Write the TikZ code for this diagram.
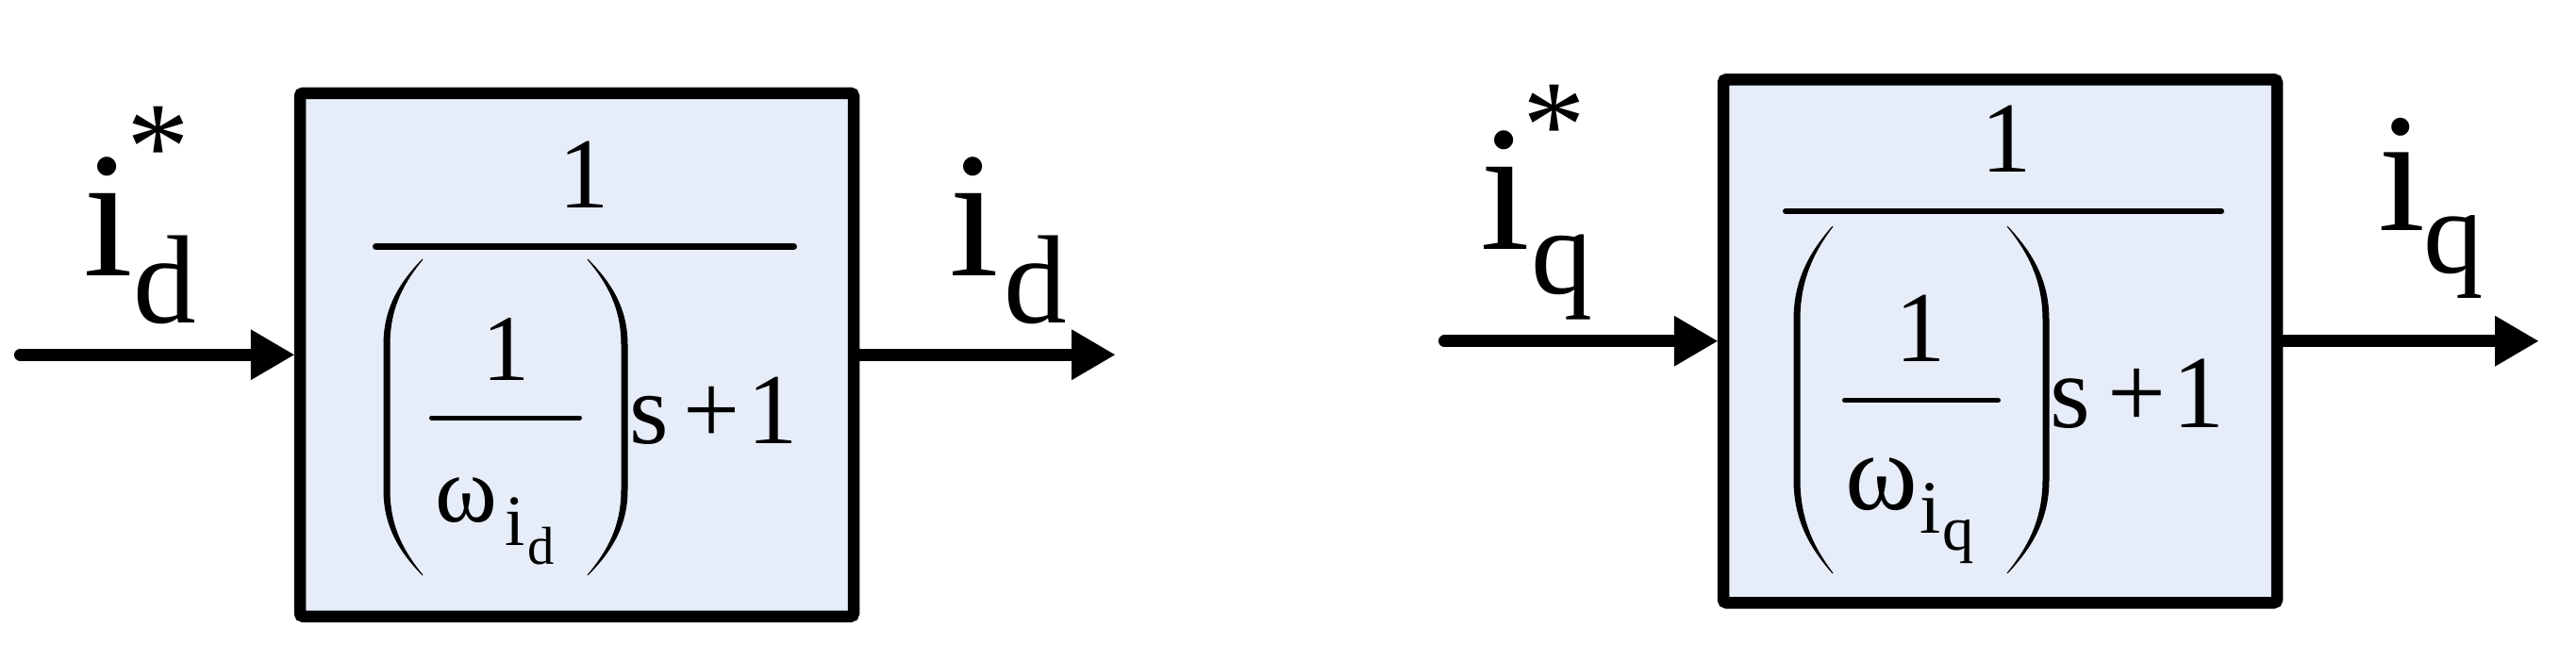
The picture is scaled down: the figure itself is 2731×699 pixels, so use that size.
\documentclass[tikz,border=0pt]{standalone}
\usepackage{fontspec}
\setmainfont{Liberation Serif}
\usetikzlibrary{arrows.meta}
\definecolor{boxfill}{RGB}{230,237,248}
\newcommand{\fs}[1]{\fontsize{#1pt}{#1pt}\selectfont}
% tall thin parenthesis: #1 tip x, #2 outer x, #3 top y, #4 bottom y, #5 signed thickness
\newcommand{\Parn}[5]{%
 \filldraw[line width=0.3pt]
 (#1,#3) .. controls ({(#2)+0.45*((#1)-(#2))},{(#3)+0.07*((#4)-(#3))}) and (#2,{(#3)+0.15*((#4)-(#3))}) .. (#2,{(#3)+0.27*((#4)-(#3))})
 -- (#2,{(#4)-0.27*((#4)-(#3))})
 .. controls (#2,{(#4)-0.15*((#4)-(#3))}) and ({(#2)+0.45*((#1)-(#2))},{(#4)-0.07*((#4)-(#3))}) .. (#1,#4)
 .. controls ({(#2)+(#5)+0.45*((#1)-(#2)-(#5))},{(#4)-0.07*((#4)-(#3))}) and ({(#2)+(#5)},{(#4)-0.15*((#4)-(#3))}) .. ({(#2)+(#5)},{(#4)-0.27*((#4)-(#3))})
 -- ({(#2)+(#5)},{(#3)+0.27*((#4)-(#3))})
 .. controls ({(#2)+(#5)},{(#3)+0.15*((#4)-(#3))}) and ({(#2)+(#5)+0.45*((#1)-(#2)-(#5))},{(#3)+0.07*((#4)-(#3))}) .. (#1,#3) -- cycle;}
\begin{document}
\begin{tikzpicture}[x=0.3pt,y=-0.3pt,
  blk/.style={draw=black,fill=boxfill,line width=3.75pt,rounded corners=1pt,
    minimum width=176.1pt,minimum height=166.5pt,inner sep=0pt},
  glyph/.style={inner sep=0pt,anchor=base},
  arr/.style={line width=3.9pt,line cap=round,
    -{Triangle[length=13.8pt,width=16.2pt,line width=0pt]}},
  fbar/.style={line cap=round}]
\fill[white] (0,0) rectangle (2731,699);
\useasboundingbox (0,0) rectangle (2731,699);

% blocks
\node[blk] (bd) at (611.5,376.25) {};
\node[blk] (bq) at (2120.5,361.75) {};

% connectors
\coordinate (inD) at (21.5,376.25);
\coordinate (outD) at (1182,376.25);
\coordinate (inQ) at (1531.5,361.75);
\coordinate (outQ) at (2691,361.75);
\draw[arr] (inD) -- (bd.west);
\draw[arr] (bd.east) -- (outD);
\draw[arr] (inQ) -- (bq.west);
\draw[arr] (bq.east) -- (outQ);

% left labels
\node[glyph,font=\fs{57}] (Ld) at (115,292) {i};
\node[glyph,font=\fs{40}] (Ldd) at (175,342) {d};
\node[glyph,font=\fs{40}] (Lds) at (167.5,200) {*};
\node[glyph,font=\fs{57}] (Od) at (1033,292) {i};
\node[glyph,font=\fs{40}] (Odd) at (1097.5,342) {d};

% right labels
\node[glyph,font=\fs{57}] (Lq) at (1596,264) {i};
\node[glyph,font=\fs{39}] (Lqq) at (1656,311) {q};
\node[glyph,font=\fs{40}] (Lqs) at (1648,177) {*};
\node[glyph,font=\fs{54}] (Oq) at (2546,244) {i};
\node[glyph,font=\fs{38}] (Oqq) at (2601,289) {q};

% left block content
\node[glyph,font=\fs{32}] (nd) at (619.5,220) {1};
\draw[fbar,line width=2.1pt] (398.5,261.5) -- (841.5,261.5);
\Parn{448}{407}{275}{610}{6}
\Parn{623}{665}{275}{610}{-6}
\node[glyph,font=\fs{30}] (n1d) at (536,403) {1};
\draw[fbar,line width=1.5pt] (457.5,443) -- (614.5,443);
\node[glyph,font=\fs{30}] (wd) at (494,553) {ω};
\node[glyph,font=\fs{23}] (wid) at (546,578) {i};
\node[glyph,font=\fs{17}] (wdd) at (574,598) {d};
\node[glyph,font=\fs{32}] (sd) at (688.5,470) {s};
\node[glyph,font=\fs{32}] (pd) at (755,470) {+};
\node[glyph,font=\fs{32}] (od) at (819,470) {1};

% right block content
\node[glyph,font=\fs{32}] (nq) at (2127,182) {1};
\draw[fbar,line width=1.8pt] (1893,224) -- (2355,224);
\Parn{1943}{1902}{240}{608}{6}
\Parn{2128}{2172}{240}{608}{-6}
\node[glyph,font=\fs{32}] (n1q) at (2036,383) {1};
\draw[fbar,line width=1.5pt] (1955.5,424.5) -- (2118.5,424.5);
\node[glyph,font=\fs{35}] (wq) at (1995,540) {ω};
\node[glyph,font=\fs{24}] (wiq) at (2047,565) {i};
\node[glyph,font=\fs{20}] (wqq) at (2076,583) {q};
\node[glyph,font=\fs{33}] (sq) at (2195,453) {s};
\node[glyph,font=\fs{33}] (pq) at (2265,453) {+};
\node[glyph,font=\fs{33}] (oq) at (2331,453) {1};
\end{tikzpicture}
\end{document}
